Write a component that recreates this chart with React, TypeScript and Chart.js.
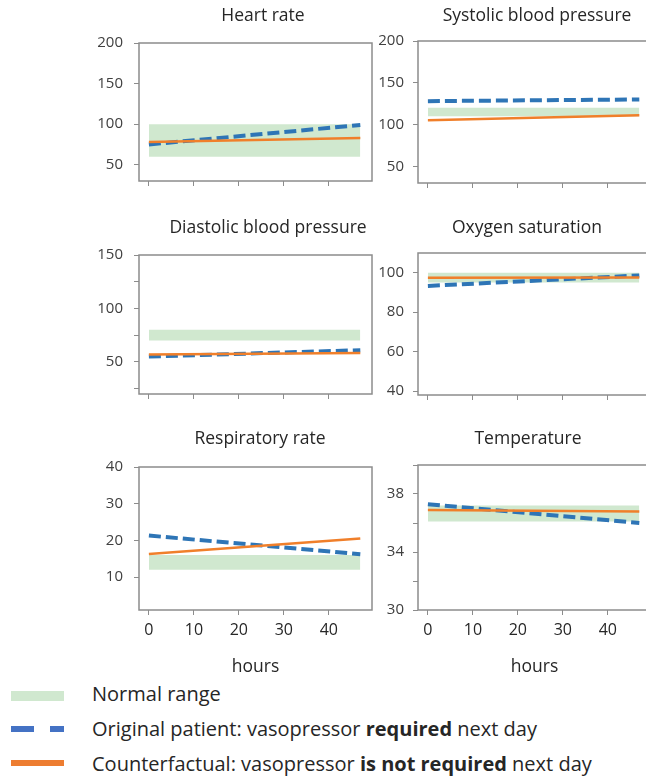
import React, { useEffect, useRef } from "react";
import { Chart, registerables } from "chart.js";

Chart.register(...registerables);

// ---------- data ----------
const hours = [0, 47];
const xTicks = [0, 10, 20, 30, 40];

const panelTitles = [
  "Heart rate",
  "Systolic blood pressure",
  "Diastolic blood pressure",
  "Oxygen saturation",
  "Respiratory rate",
  "Temperature",
];

// normal range [low, high]
const heartRateNormal = [60, 100];
const systolicNormal = [110, 120];
const diastolicNormal = [70, 80];
const oxygenNormal = [95, 100];
const respiratoryNormal = [12, 16];
const temperatureNormal = [36.1, 37.2];

// original patient (vasopressor required) values at hours[]
const heartRateOriginal = [75, 99];
const systolicOriginal = [128, 130];
const diastolicOriginal = [55, 61];
const oxygenOriginal = [93.3, 98.6];
const respiratoryOriginal = [21.3, 16.2];
const temperatureOriginal = [37.3, 36.0];

// counterfactual (vasopressor not required) values at hours[]
const heartRateCounterfactual = [78, 83];
const systolicCounterfactual = [105, 111];
const diastolicCounterfactual = [57, 58.3];
const oxygenCounterfactual = [97.4, 97.6];
const respiratoryCounterfactual = [16.3, 20.5];
const temperatureCounterfactual = [36.9, 36.8];

// y axis ranges, tick positions and labelled ticks
const heartRateRange = [30, 200];
const systolicRange = [30, 200];
const diastolicRange = [20, 150];
const oxygenRange = [38, 110];
const respiratoryRange = [1, 40];
const temperatureRange = [30, 40];

const heartRateTicks = [50, 100, 150, 200];
const systolicTicks = [50, 100, 150, 200];
const diastolicTicks = [25, 50, 75, 100, 125, 150];
const oxygenTicks = [40, 60, 80, 100];
const respiratoryTicks = [10, 20, 30, 40];
const temperatureTicks = [30, 32, 34, 36, 38, 40];

const heartRateLabels = [50, 100, 150, 200];
const systolicLabels = [50, 100, 150, 200];
const diastolicLabels = [50, 100, 150];
const oxygenLabels = [40, 60, 80, 100];
const respiratoryLabels = [10, 20, 30, 40];
const temperatureLabels = [30, 34, 38];

const legendLabels = ["Normal range", "Original patient", "Counterfactual"];

// ---------- styles ----------
const BLUE = "#2E75B6";
const ORANGE = "#F07F2A";
const GREEN = "#D0E8CF";
const AXIS = "#8c8c8c";
const TEXT = "#262626";
const FONT = "'Open Sans', 'DejaVu Sans', sans-serif";

type PanelSpec = {
  title: string;
  normal: number[];
  original: number[];
  counterfactual: number[];
  range: number[];
  ticks: number[];
  labels: number[];
  box: { x0: number; x1: number; y0: number; y1: number };
  titlePos: { x: number; y: number };
  bottomRow: boolean;
  labelGap: number;
};

const panels: PanelSpec[] = [
  {
    title: panelTitles[0], normal: heartRateNormal, original: heartRateOriginal,
    counterfactual: heartRateCounterfactual, range: heartRateRange, ticks: heartRateTicks,
    labels: heartRateLabels, box: { x0: 139, x1: 372, y0: 35, y1: 185 },
    titlePos: { x: 263, y: 15 }, bottomRow: false, labelGap: 11,
  },
  {
    title: panelTitles[1], normal: systolicNormal, original: systolicOriginal,
    counterfactual: systolicCounterfactual, range: systolicRange, ticks: systolicTicks,
    labels: systolicLabels, box: { x0: 418, x1: 651, y0: 35, y1: 185 },
    titlePos: { x: 537, y: 15 }, bottomRow: false, labelGap: 9,
  },
  {
    title: panelTitles[2], normal: diastolicNormal, original: diastolicOriginal,
    counterfactual: diastolicCounterfactual, range: diastolicRange, ticks: diastolicTicks,
    labels: diastolicLabels, box: { x0: 139, x1: 372, y0: 247, y1: 398 },
    titlePos: { x: 268, y: 227 }, bottomRow: false, labelGap: 11,
  },
  {
    title: panelTitles[3], normal: oxygenNormal, original: oxygenOriginal,
    counterfactual: oxygenCounterfactual, range: oxygenRange, ticks: oxygenTicks,
    labels: oxygenLabels, box: { x0: 418, x1: 651, y0: 247, y1: 397 },
    titlePos: { x: 527, y: 227 }, bottomRow: false, labelGap: 9,
  },
  {
    title: panelTitles[4], normal: respiratoryNormal, original: respiratoryOriginal,
    counterfactual: respiratoryCounterfactual, range: respiratoryRange, ticks: respiratoryTicks,
    labels: respiratoryLabels, box: { x0: 139, x1: 372, y0: 459, y1: 610 },
    titlePos: { x: 260, y: 438 }, bottomRow: true, labelGap: 11,
  },
  {
    title: panelTitles[5], normal: temperatureNormal, original: temperatureOriginal,
    counterfactual: temperatureCounterfactual, range: temperatureRange, ticks: temperatureTicks,
    labels: temperatureLabels, box: { x0: 418, x1: 651, y0: 459, y1: 610 },
    titlePos: { x: 528, y: 438 }, bottomRow: true, labelGap: 9,
  },
];

const LEFT_W = 70;
const TOP_PAD = 12;
const RIGHT_PAD = 6;

const boxPlugin = {
  id: "plotBox",
  afterDraw(chart: any) {
    const { ctx, chartArea: a } = chart;
    ctx.save();
    ctx.strokeStyle = AXIS;
    ctx.lineWidth = 1.5;
    ctx.strokeRect(a.left, a.top, a.right - a.left, a.bottom - a.top);
    ctx.restore();
  },
};

function Panel({ spec }: { spec: PanelSpec }) {
  const ref = useRef<HTMLCanvasElement | null>(null);
  const { box } = spec;
  const bottomH = spec.bottomRow ? 70 : 16;
  const width = box.x1 - box.x0 + LEFT_W + RIGHT_PAD;
  const height = box.y1 - box.y0 + TOP_PAD + bottomH;

  useEffect(() => {
    if (!ref.current) return;
    const lowLine = hours.map((h) => ({ x: h, y: spec.normal[0] }));
    const highLine = hours.map((h) => ({ x: h, y: spec.normal[1] }));
    const chart = new Chart(ref.current, {
      type: "line",
      data: {
        datasets: [
          {
            label: legendLabels[2],
            data: hours.map((h, i) => ({ x: h, y: spec.counterfactual[i] })),
            borderColor: ORANGE,
            borderWidth: 2.5,
            pointRadius: 0,
            fill: false,
          },
          {
            label: legendLabels[1],
            data: hours.map((h, i) => ({ x: h, y: spec.original[i] })),
            borderColor: BLUE,
            borderWidth: 4,
            borderDash: [12, 5],
            pointRadius: 0,
            fill: false,
          },
          {
            label: legendLabels[0],
            data: highLine,
            borderWidth: 0,
            borderColor: "rgba(0,0,0,0)",
            backgroundColor: GREEN,
            pointRadius: 0,
            fill: "+1",
          },
          {
            label: legendLabels[0] + " low",
            data: lowLine,
            borderWidth: 0,
            borderColor: "rgba(0,0,0,0)",
            pointRadius: 0,
            fill: false,
          },
        ],
      },
      options: {
        animation: false,
        responsive: false,
        maintainAspectRatio: false,
        layout: { padding: { left: 0, right: RIGHT_PAD, top: TOP_PAD, bottom: 0 } },
        plugins: {
          legend: { display: false },
          tooltip: { enabled: false },
          title: { display: false },
        },
        scales: {
          x: {
            type: "linear",
            min: -2.2,
            max: 49.6,
            afterBuildTicks: (scale: any) => {
              scale.ticks = xTicks.map((v) => ({ value: v }));
            },
            afterFit: (scale: any) => {
              scale.height = bottomH;
            },
            border: { display: false },
            grid: {
              drawOnChartArea: false,
              drawTicks: true,
              tickLength: 5,
              color: AXIS,
              lineWidth: 1,
            },
            ticks: {
              padding: 6,
              color: TEXT,
              font: { family: FONT, size: 16 },
              maxRotation: 0,
              autoSkip: false,
              callback: (v: any) => (spec.bottomRow ? String(v) : ""),
            },
            title: {
              display: spec.bottomRow,
              text: "hours",
              color: TEXT,
              font: { family: FONT, size: 17.5 },
              padding: { top: 0, bottom: 2 },
            },
          },
          y: {
            type: "linear",
            min: spec.range[0],
            max: spec.range[1],
            afterBuildTicks: (scale: any) => {
              scale.ticks = spec.ticks.map((v) => ({ value: v }));
            },
            afterFit: (scale: any) => {
              scale.width = LEFT_W;
            },
            border: { display: false },
            grid: {
              drawOnChartArea: false,
              drawTicks: true,
              tickLength: 5,
              color: AXIS,
              lineWidth: 1,
            },
            ticks: {
              padding: spec.labelGap,
              color: "#404040",
              font: { family: FONT, size: 15 },
              autoSkip: false,
              callback: (v: any) => (spec.labels.includes(Number(v)) ? String(v) : ""),
            },
          },
        },
      },
      plugins: [boxPlugin],
    });
    return () => chart.destroy();
  }, []);

  return (
    <>
      <canvas
        ref={ref}
        width={width}
        height={height}
        style={{
          position: "absolute",
          left: box.x0 - LEFT_W,
          top: box.y0 - TOP_PAD,
          width,
          height,
        }}
      />
      <div
        style={{
          position: "absolute",
          left: spec.titlePos.x,
          top: spec.titlePos.y,
          transform: "translate(-50%, -50%)",
          fontFamily: FONT,
          fontSize: 17.5,
          lineHeight: "17.5px",
          color: TEXT,
          whiteSpace: "nowrap",
        }}
      >
        {spec.title}
      </div>
    </>
  );
}

function LegendText({ y, children }: { y: number; children: React.ReactNode }) {
  return (
    <div
      style={{
        position: "absolute",
        left: 92,
        top: y,
        transform: "translateY(-50%)",
        fontFamily: FONT,
        fontSize: 20,
        lineHeight: "20px",
        color: TEXT,
        whiteSpace: "nowrap",
      }}
    >
      {children}
    </div>
  );
}

export default function App() {
  return (
    <div
      style={{
        position: "absolute",
        left: 0,
        top: 0,
        width: 646,
        height: 778,
        overflow: "hidden",
        background: "#fff",
      }}
    >
      {panels.map((p, i) => (
        <Panel key={i} spec={p} />
      ))}
      {/* legend */}
      <div style={{ position: "absolute", left: 11, top: 691, width: 53, height: 10, background: GREEN }} />
      <div style={{ position: "absolute", left: 11, top: 726, width: 23, height: 6, background: "#4472C4" }} />
      <div style={{ position: "absolute", left: 50, top: 726, width: 14, height: 6, background: "#4472C4" }} />
      <div style={{ position: "absolute", left: 11, top: 760, width: 53, height: 6, background: "#ED7D31" }} />
      <LegendText y={694}>{legendLabels[0]}</LegendText>
      <LegendText y={729}>
        {legendLabels[1]}: vasopressor <b>required</b> next day
      </LegendText>
      <LegendText y={764}>
        {legendLabels[2]}: vasopressor <b>is not required</b> next day
      </LegendText>
    </div>
  );
}
